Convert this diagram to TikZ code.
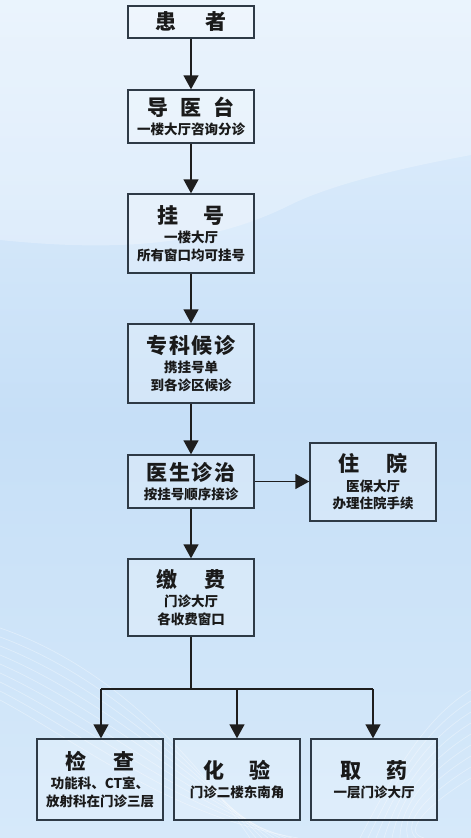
\documentclass[tikz,border=0pt]{standalone}
\usepackage{fontspec}
\setmainfont{Noto Sans CJK SC}
\usetikzlibrary{arrows.meta}
\definecolor{bgtop}{HTML}{E3F0FD}
\definecolor{bgmid}{HTML}{C6DFF7}
\definecolor{bgbot}{HTML}{D6E9FA}
\definecolor{boxline}{HTML}{2E3A46}
\definecolor{arrowc}{HTML}{1E1E1E}
\definecolor{txt}{HTML}{1A1A1A}
\newcommand\ttl[1]{{\fontsize{21}{24}\selectfont\bfseries #1}}
\newcommand\subfnt{\fontsize{13.5}{17.5}\selectfont\bfseries}
\begin{document}
\begin{tikzpicture}[x=1pt,y=-1pt,
  box/.style={draw=boxline, line width=1.4pt, fill=white, fill opacity=0.22,
    text opacity=1, minimum width=126pt, inner sep=0pt, align=center,
    font=\subfnt, text=txt},
  conn/.style={line width=1.4pt, draw=arrowc, -{Triangle[length=14pt,width=15pt]}},
  plain/.style={line width=1.4pt, draw=arrowc},
  wave/.style={draw=white, draw opacity=0.35, line width=0.7pt}]
\useasboundingbox (0,0) rectangle (471,838);
% background
\shade[top color=bgtop, bottom color=bgbot, middle color=bgmid] (0,0) rectangle (471,838);
\fill[white, opacity=0.28] (0,0) -- (471,0) -- (471,155) .. controls (400,168) and (330,185) .. (290,205) .. controls (200,250) and (100,250) .. (0,240) -- cycle;
\foreach \i in {0,...,8}{
  \draw[wave] (0,{628+\i*9}) .. controls (80,{655+\i*11}) and (170,{720+\i*12}) .. ({250+\i*6},838);
  \draw[wave] (471,{690+\i*11}) .. controls (430,{715+\i*11}) and (400,{760+\i*9}) .. ({360+\i*8},838);
}
% nodes
\node[box, minimum height=32pt] (hz) at (191,22) {\ttl{患\hspace{1.35em}者}};
\node[box, minimum height=53pt] (dy) at (191,116.5) {\ttl{导\hspace{0.55em}医\hspace{0.55em}台}\\[1pt]一楼大厅咨询分诊};
\node[box, minimum height=79pt] (gh) at (191,233.5) {\ttl{挂\hspace{1.2em}号}\\[2pt]一楼大厅\\所有窗口均可挂号};
\node[box, minimum height=79pt] (zk) at (191,363.5) {\ttl{专\hspace{0.08em}科\hspace{0.08em}候\hspace{0.08em}诊}\\[2pt]携挂号单\\到各诊区候诊};
\node[box, minimum height=53pt] (ys) at (191,481.5) {\ttl{医\hspace{0.08em}生\hspace{0.08em}诊\hspace{0.08em}治}\\[1pt]按挂号顺序接诊};
\node[box, minimum height=78pt] (zy) at (373,482) {\ttl{住\hspace{1.25em}院}\\[2pt]医保大厅\\办理住院手续};
\node[box, minimum height=77pt] (jf) at (191,597.5) {\ttl{缴\hspace{1.3em}费}\\[2pt]门诊大厅\\各收费窗口};
\node[box, minimum height=81pt] (jc) at (100,779.5) {\ttl{检\hspace{1.3em}查}\\[2pt]功能科、CT室、\\放射科在门诊三层};
\node[box, minimum height=81pt] (hy) at (237,779.5) {\ttl{化\hspace{1.15em}验}\\[2pt]门诊二楼东南角};
\node[box, minimum height=81pt] (qy) at (374,779.5) {\ttl{取\hspace{1.2em}药}\\[2pt]一层门诊大厅};
% connectors
\draw[conn] (hz) -- (dy);
\draw[conn] (dy) -- (gh);
\draw[conn] (gh) -- (zk);
\draw[conn] (zk) -- (ys);
\draw[conn] (ys) -- (jf);
\draw[conn] (ys.east) -- (ys.east -| zy.west);
\coordinate (br) at (191,689);
\draw[plain] (jf.south) -- (br);
\draw[plain] ([xshift=1pt]jc.north |- br) -- ([xshift=-1pt]qy.north |- br);
\draw[conn] ([xshift=1pt]jc.north |- br) -- ([xshift=1pt]jc.north);
\draw[conn] (hy.north |- br) -- (hy.north);
\draw[conn] ([xshift=-1pt]qy.north |- br) -- ([xshift=-1pt]qy.north);
\end{tikzpicture}
\end{document}
